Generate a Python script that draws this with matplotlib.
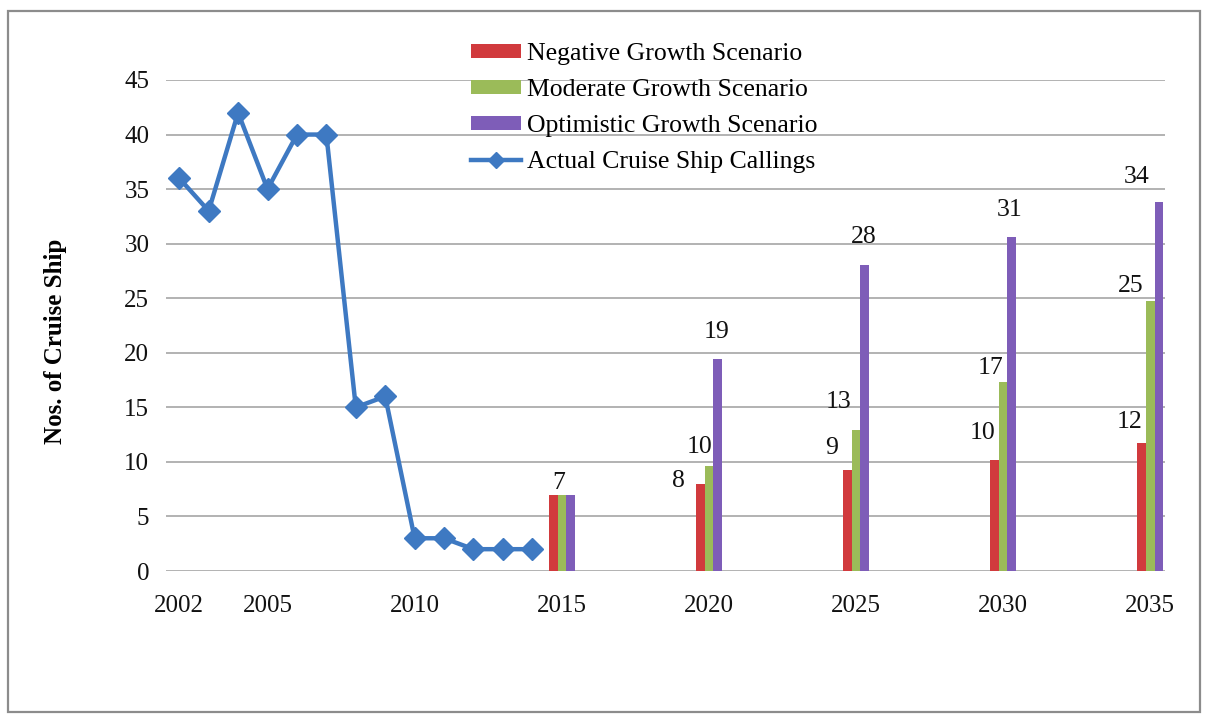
import numpy as np
import matplotlib.pyplot as plt
from matplotlib.patches import Rectangle

plt.rcParams['font.family'] = ['Liberation Serif', 'DejaVu Serif']

# actual callings
years = [2002, 2003, 2004, 2005, 2006, 2007, 2008, 2009, 2010, 2011, 2012, 2013, 2014]
actual = [36, 33, 42, 35, 40, 40, 15, 16, 3, 3, 2, 2, 2]

# scenario forecasts
f_years = [2015, 2020, 2025, 2030, 2035]
negative = [7.0, 8.0, 9.3, 10.2, 11.7]
moderate = [7.0, 9.6, 12.9, 17.3, 24.7]
optimistic = [7.0, 19.4, 28.0, 30.6, 33.8]

xticks = [2002, 2005, 2010, 2015, 2020, 2025, 2030, 2035]

c_red = '#D13A3D'
c_green = '#9BBB59'
c_purple = '#7E5DB8'
c_blue = '#3E79C2'

fig = plt.figure(figsize=(12.08, 7.16), dpi=100)
ax = fig.add_axes([166/1208, 1-571/716, (1165-166)/1208, (571-80)/716])

w = 0.29
xf = np.array(f_years, dtype=float)
b1 = ax.bar(xf - w, negative, w, color=c_red, label='Negative Growth Scenario', zorder=3)
b2 = ax.bar(xf, moderate, w, color=c_green, label='Moderate Growth Scenario', zorder=3)
b3 = ax.bar(xf + w, optimistic, w, color=c_purple, label='Optimistic Growth Scenario', zorder=3)
ln, = ax.plot(years, actual, color=c_blue, lw=3.2, marker='D', ms=11.5, zorder=4,
              label='Actual Cruise Ship Callings')

# data labels: offsets in pixels (dx, dy) from bar top centre to label centre
px = 72/100
red_off = [None, (-22, 3), (-16, 22), (-12, 27), (-12, 21)]
green_off = [(-3, 12), (-9, 19), (-17, 28), (-13, 14), (-20, 15)]
purple_off = [None, (-1, 27), (-1, 28), (-2, 27), (-22, 25)]
for bars, vals, offs in [(b1, negative, red_off), (b2, moderate, green_off), (b3, optimistic, purple_off)]:
    for rect, v, o in zip(bars, vals, offs):
        if o is None:
            continue
        ax.annotate(f'{round(v)}', (rect.get_x() + rect.get_width()/2, v),
                    xytext=(o[0]*px, o[1]*px), textcoords='offset points',
                    ha='center', va='center', fontsize=18.5, color='#111111',
                    annotation_clip=False, zorder=5)

ax.set_xlim(2001.55, 2035.5)
ax.set_ylim(0, 45)
ax.set_yticks(range(0, 46, 5))
ax.set_xticks(xticks)
ax.tick_params(axis='both', length=0, labelsize=18, colors='#111111')
ax.tick_params(axis='y', pad=12)
ax.tick_params(axis='x', pad=17)
ax.grid(axis='y', color='#A6A6A6', lw=1.2, zorder=0)
for s in ax.spines.values():
    s.set_visible(False)

ax.set_ylabel('Nos. of Cruise Ship', fontsize=18, fontweight='bold')
ax.yaxis.set_label_coords(-0.099, 0.467)

leg = fig.legend(handles=[b1, b2, b3, ln], loc='upper left',
                 bbox_to_anchor=(458/1208, 1-30/716), frameon=False,
                 fontsize=18.5, handlelength=1.95, handleheight=0.45,
                 handletextpad=0.25, labelspacing=0.55, borderpad=0)
leg.legend_handles[3].set_markersize(8)

fig.patches.append(Rectangle((8/1208, 4/716), 1192/1208, 1-15/716, transform=fig.transFigure,
                             fill=False, edgecolor='#8C8C8C', lw=1.6))

fig.savefig('out.png', dpi=100)
